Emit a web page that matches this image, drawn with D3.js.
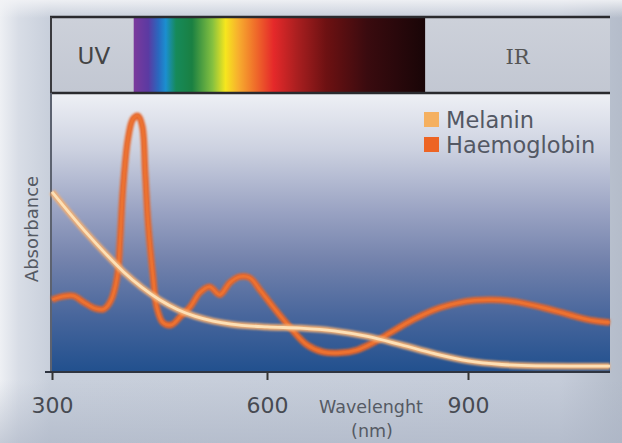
<!DOCTYPE html>
<html><head><meta charset="utf-8">
<script src="https://cdn.jsdelivr.net/npm/d3@7"></script>
<style>html,body{margin:0;padding:0;background:#c9d0dc;}svg{display:block;}</style>
</head><body>
<script>
// ---- data ----
const xTicks = [300, 600, 900];
const seriesNames = ["Melanin", "Haemoglobin"];
const haemoWave = [300,315,330,345,360,372,382,391,395,399,406,413,420,426,430,434,441,446,455,467,479,493,506,520,534,548,562,576,590,609,634,660,684,709,734,758,784,809,833,858,884,910,935,960,985,1010,1035,1060,1085,1110];
const haemoAbs  = [26.0,27.2,27.4,25.0,22.9,22.6,25.6,34.3,47.7,65.7,83.8,91.0,92.1,88.4,71.8,53.8,34.3,23.5,17.7,17.0,19.9,23.5,28.5,30.7,27.8,32.1,34.3,33.9,29.6,23.5,16.2,9.7,7.2,6.9,7.9,10.5,14.1,17.7,20.6,23.1,24.8,25.8,26.0,25.6,24.6,23.2,21.6,19.9,18.5,17.8];
const melWave = [300,325,350,375,400,425,450,475,500,525,550,600,650,700,750,800,850,900,950,1000,1050,1110];
const melAbs  = [64.8,57.0,49.5,42.5,36.0,30.5,26.0,22.5,20.0,18.3,17.2,16.2,15.8,14.8,12.8,9.8,6.6,4.0,2.7,2.2,2.1,2.1];
const bandLabels = ["UV", "IR"];
const bandWave = [300, 414, 836, 1110]; // UV | visible | IR boundaries

const W = 622, H = 443;
const svg = d3.select("body").append("svg").attr("width", W).attr("height", H)
  .style("font-family", "'DejaVu Sans', Verdana, sans-serif");
const defs = svg.append("defs");

// background
const bg = defs.append("linearGradient").attr("id","bg").attr("x1",0).attr("x2",1).attr("y1",0).attr("y2",0);
[[0,"#eef0f4"],[0.03,"#d8dde6"],[0.08,"#c8cfdb"],[0.9,"#c5ccd9"],[1,"#b4bcca"]].forEach(s=>bg.append("stop").attr("offset",s[0]).attr("stop-color",s[1]));
svg.append("rect").attr("width",W).attr("height",H).attr("fill","url(#bg)");
const bgTop = defs.append("linearGradient").attr("id","bgTop").attr("x1",0).attr("x2",0).attr("y1",0).attr("y2",1);
[[0,"#f2f3f6",0.9],[1,"#f2f3f6",0]].forEach(s=>bgTop.append("stop").attr("offset",s[0]).attr("stop-color",s[1]).attr("stop-opacity",s[2]));
svg.append("rect").attr("width",W).attr("height",18).attr("fill","url(#bgTop)");
const bgBot = defs.append("linearGradient").attr("id","bgBot").attr("x1",0).attr("x2",0).attr("y1",0).attr("y2",1);
[[0,"#aab3c4",0],[1,"#aab3c4",0.6]].forEach(s=>bgBot.append("stop").attr("offset",s[0]).attr("stop-color",s[1]).attr("stop-opacity",s[2]));
svg.append("rect").attr("y",380).attr("width",W).attr("height",63).attr("fill","url(#bgBot)");

// scales
const x = d3.scaleLinear().domain([300, 600, 900, 1110]).range([52, 267, 468, 610]);
const y = d3.scaleLinear().domain([0, 100]).range([372, 94]);
const bandTop = 17, bandBot = 93;

// plot gradient
const pg = defs.append("linearGradient").attr("id","pg").attr("x1",0).attr("x2",0).attr("y1",0).attr("y2",1);
[[0,"#eef0f5"],[0.2,"#ccd1e0"],[0.42,"#9aa3c3"],[0.6,"#7382ac"],[0.8,"#48669c"],[1,"#21508e"]].forEach(s=>pg.append("stop").attr("offset",s[0]).attr("stop-color",s[1]));
svg.append("rect").attr("x",x(300)).attr("y",y(100)).attr("width",x(1110)-x(300)).attr("height",y(0)-y(100)).attr("fill","url(#pg)");

// band
const bandG = defs.append("linearGradient").attr("id","bandG").attr("x1",0).attr("x2",0).attr("y1",0).attr("y2",1);
[[0,"#cdd1da"],[1,"#c2c7d2"]].forEach(s=>bandG.append("stop").attr("offset",s[0]).attr("stop-color",s[1]));
svg.append("rect").attr("x",x(300)).attr("y",bandTop).attr("width",x(1110)-x(300)).attr("height",bandBot-bandTop).attr("fill","url(#bandG)");
const spec = defs.append("linearGradient").attr("id","spec").attr("x1",0).attr("x2",1).attr("y1",0).attr("y2",0);
[[0,"#7b3a9c"],[0.05,"#5b3aa2"],[0.085,"#2a68bf"],[0.11,"#1b8fd0"],[0.145,"#168a5a"],[0.2,"#1a8042"],[0.27,"#84c040"],[0.315,"#f6e61e"],[0.36,"#f7ad2e"],[0.42,"#ef6a2a"],[0.48,"#e5292a"],[0.56,"#aa1f20"],[0.66,"#6d1112"],[0.8,"#3a0b0f"],[1,"#190507"]].forEach(s=>spec.append("stop").attr("offset",s[0]).attr("stop-color",s[1]));
svg.append("rect").attr("x",x(bandWave[1])).attr("y",bandTop).attr("width",x(bandWave[2])-x(bandWave[1])).attr("height",bandBot-bandTop).attr("fill","url(#spec)");
svg.append("line").attr("x1",50).attr("x2",x(1110)).attr("y1",bandTop).attr("y2",bandTop).attr("stroke","#2a2a2e").attr("stroke-width",2.5);
svg.append("line").attr("x1",50).attr("x2",x(1110)).attr("y1",bandBot).attr("y2",bandBot).attr("stroke","#2a2a2e").attr("stroke-width",2.5);
svg.append("line").attr("x1",51).attr("x2",51).attr("y1",bandTop).attr("y2",bandBot).attr("stroke","#3a3a3e").attr("stroke-width",2);
svg.append("text").attr("x",(x(bandWave[0])+x(bandWave[1]))/2+1).attr("y",64).attr("text-anchor","middle")
  .attr("font-size",23).attr("fill","#444").text(bandLabels[0]);
svg.append("text").attr("x",(x(bandWave[2])+x(bandWave[3]))/2).attr("y",64).attr("text-anchor","middle")
  .attr("font-size",21).attr("fill","#555").attr("font-family","'DejaVu Serif', serif").text(bandLabels[1]);

// left border of plot
svg.append("line").attr("x1",51).attr("x2",51).attr("y1",bandBot).attr("y2",y(0)).attr("stroke","#5c6270").attr("stroke-width",2);

// lines
const lineH = d3.line().x(d=>x(d[0])).y(d=>y(d[1])).curve(d3.curveCatmullRom.alpha(0.5));
const lineM = d3.line().x(d=>x(d[0])).y(d=>y(d[1])).curve(d3.curveMonotoneX);
const haemo = haemoWave.map((w,i)=>[w, haemoAbs[i]]);
const mel = melWave.map((w,i)=>[w, melAbs[i]]);
const blur = defs.append("filter").attr("id","soft").attr("x","-5%").attr("y","-5%").attr("width","110%").attr("height","110%");
blur.append("feGaussianBlur").attr("stdDeviation",0.8);
svg.append("path").datum(haemo).attr("d",lineH).attr("fill","none").attr("stroke","#e6662a").attr("stroke-width",6.5).attr("filter","url(#soft)").attr("stroke-linejoin","round");
svg.append("path").datum(haemo).attr("d",lineH).attr("fill","none").attr("stroke","#f07a36").attr("stroke-width",2.5).attr("opacity",0.6);
svg.append("path").datum(mel).attr("d",lineM).attr("fill","none").attr("stroke","#f0ae74").attr("stroke-width",6.5).attr("filter","url(#soft)");
svg.append("path").datum(mel).attr("d",lineM).attr("fill","none").attr("stroke","#fde0b6").attr("stroke-width",2.8);

// x axis
const xAxis = svg.append("g").attr("transform",`translate(0,${y(0)})`)
  .call(d3.axisBottom(x).tickValues(xTicks).tickSize(8).tickSizeOuter(0).tickFormat(d3.format("d")));
xAxis.select(".domain").attr("d",`M45,0H${x(1110)}`).attr("stroke","#2e3440").attr("stroke-width",2);
xAxis.selectAll(".tick line").attr("stroke","#333").attr("stroke-width",2);
xAxis.selectAll(".tick text").attr("y",41).attr("dy",0).attr("font-size",22).attr("fill","#474a52")
  .attr("font-family","'DejaVu Sans', sans-serif");

// axis titles
svg.append("text").attr("x",371).attr("y",413).attr("text-anchor","middle").attr("font-size",17.5).attr("fill","#555a64").text("Wavelenght");
svg.append("text").attr("x",372).attr("y",437).attr("text-anchor","middle").attr("font-size",17.5).attr("fill","#555a64").text("(nm)");
svg.append("text").attr("transform","translate(38,229) rotate(-90)").attr("text-anchor","middle").attr("font-size",18).attr("fill","#555a64").text("Absorbance");

// legend
const legColors = ["#f5b060", "#ed6424"];
const leg = svg.append("g").attr("transform","translate(424,112)");
seriesNames.forEach((n,i)=>{
  leg.append("rect").attr("x",0).attr("y",i*25).attr("width",15).attr("height",15).attr("fill",legColors[i]);
  leg.append("text").attr("x",22).attr("y",i*25+16).attr("font-size",22.5).attr("fill","#535864").text(n);
});
</script>
</body></html>
